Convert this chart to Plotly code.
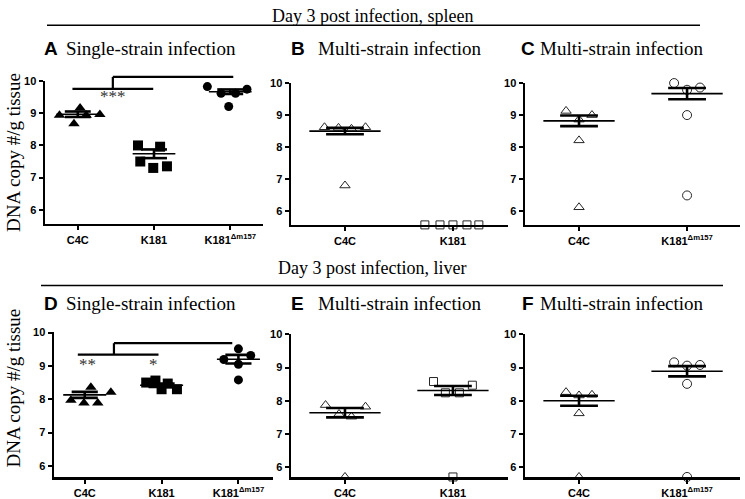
import plotly.graph_objects as go

W, H = 745, 499

# ---------------- data (log10 DNA copy #/g tissue) ----------------
cats_single = ["C4C", "K181", "K181<sup>Δm157</sup>"]
cats_multi_b = ["C4C", "K181"]
cats_multi_c = ["C4C", "K181<sup>Δm157</sup>"]

# A: spleen, single-strain
a_c4c = [8.94, 9.16, 8.67, 8.94, 8.96]
a_k181 = [8.00, 7.96, 7.50, 7.30, 7.35]
a_dm157 = [9.83, 9.62, 9.62, 9.21, 9.75]
a_mean = [8.97, 7.74, 9.67]
a_sem = [0.085, 0.135, 0.07]

# B: spleen, multi-strain C4C + K181 (K181 undetected)
b_c4c = [8.62, 8.60, 8.57, 8.62, 6.80]
b_k181 = [5.57, 5.57, 5.57, 5.57, 5.57]
b_mean = [8.50, None]
b_sem = [0.10, None]

# C: spleen, multi-strain C4C + K181dm157
c_c4c = [9.13, 8.86, 9.00, 8.21, 6.12]
c_dm157 = [10.00, 9.79, 9.86, 9.00, 6.49]
c_mean = [8.82, 9.67]
c_sem = [0.165, 0.175]

# D: liver, single-strain
d_c4c = [7.97, 7.89, 8.36, 7.89, 8.21]
d_k181 = [8.50, 8.56, 8.30, 8.47, 8.30]
d_dm157 = [9.51, 9.19, 9.05, 9.31, 8.58]
d_mean = [8.13, 8.42, 9.20]
d_sem = [0.09, 0.05, 0.13]

# E: liver, multi-strain C4C + K181
e_c4c = [7.87, 7.60, 7.52, 7.82, 5.70]
e_k181 = [8.58, 8.24, 8.24, 8.47, 5.70]
e_mean = [7.64, 8.31]
e_sem = [0.14, 0.135]

# F: liver, multi-strain C4C + K181dm157
f_c4c = [8.26, 8.16, 8.18, 7.62, 5.70]
f_dm157 = [9.16, 9.06, 9.08, 8.51, 5.70]
f_mean = [8.00, 8.89]
f_sem = [0.15, 0.155]

y_ticks = [6, 7, 8, 9, 10]

# ---------------- styling / horizontal spread of points ----------------
spread_a = [[-0.24, 0.03, -0.05, 0.11, 0.29],
            [-0.21, 0.08, -0.18, -0.01, 0.17],
            [-0.30, -0.12, 0.07, -0.02, 0.22]]
spread_b = [[-0.19, -0.06, 0.06, 0.19, 0.0],
            [-0.26, -0.12, 0.0, 0.13, 0.24]]
spread_c = [[-0.12, 0.0, 0.12, 0.0, 0.0],
            [-0.12, 0.0, 0.12, 0.0, 0.0]]
spread_d = [[-0.18, -0.01, 0.08, 0.17, 0.34],
            [-0.20, -0.08, 0.0, 0.08, 0.20],
            [0.0, -0.19, 0.0, 0.16, 0.0]]
spread_e = [[-0.18, -0.055, 0.06, 0.19, 0.0],
            [-0.18, -0.07, 0.06, 0.18, 0.0]]
spread_f = [[-0.12, 0.0, 0.12, 0.0, 0.0],
            [-0.12, 0.0, 0.12, 0.0, 0.0]]

SANS = "Liberation Sans"
SERIF = "Liberation Serif"
INK = "#000000"
OPEN_INK = "#262626"

tri_f = dict(symbol="triangle-up", size=10, color=INK)
sq_f = dict(symbol="square", size=10, color=INK)
cir_f = dict(symbol="circle", size=9, color=INK)
tri_o = dict(symbol="triangle-up-open", size=9, color=OPEN_INK, line=dict(width=1))
sq_o = dict(symbol="square-open", size=8, color=OPEN_INK, line=dict(width=1))
cir_o = dict(symbol="circle-open", size=9, color=OPEN_INK, line=dict(width=1))


def xdom(p0, p1):
    return [p0 / W, p1 / W]


def ydom(top, bottom):
    return [1 - bottom / H, 1 - top / H]


panels = [
    ("1", (45, 263), (-0.43, 2.43), (76, 221), (5.56, 10.005), cats_single,
     [(a_c4c, tri_f), (a_k181, sq_f), (a_dm157, cir_f)], a_mean, a_sem, spread_a, 0.28, 0.17),
    ("2", (291, 508), (-0.5, 1.51), (78, 222), (5.57, 10.005), cats_multi_b,
     [(b_c4c, tri_o), (b_k181, sq_o)], b_mean, b_sem, spread_b, 0.33, 0.175),
    ("3", (525, 740), (-0.5, 1.49), (78, 222), (5.57, 10.005), cats_multi_c,
     [(c_c4c, tri_o), (c_dm157, cir_o)], c_mean, c_sem, spread_c, 0.33, 0.175),
    ("4", (54, 273), (-0.40, 2.45), (331, 478), (5.66, 10.005), cats_single,
     [(d_c4c, tri_f), (d_k181, sq_f), (d_dm157, cir_f)], d_mean, d_sem, spread_d, 0.28, 0.17),
    ("5", (291, 508), (-0.5, 1.51), (333, 478), (5.69, 10.005), cats_multi_b,
     [(e_c4c, tri_o), (e_k181, sq_o)], e_mean, e_sem, spread_e, 0.33, 0.175),
    ("6", (525, 740), (-0.5, 1.49), (333, 478), (5.69, 10.005), cats_multi_c,
     [(f_c4c, tri_o), (f_dm157, cir_o)], f_mean, f_sem, spread_f, 0.33, 0.175),
]

fig = go.Figure()
layout = dict(
    width=W, height=H,
    margin=dict(l=0, r=0, t=0, b=0),
    paper_bgcolor="white", plot_bgcolor="white",
    showlegend=False,
)
shapes = []
annotations = []

for key, xpx, xr, ypx, yr, cats, groups, means, sems, spread, mw, sw in panels:
    xa = "x" if key == "1" else "x" + key
    ya = "y" if key == "1" else "y" + key
    xname = "xaxis" if key == "1" else "xaxis" + key
    yname = "yaxis" if key == "1" else "yaxis" + key
    layout[xname] = dict(
        domain=xdom(*xpx), range=list(xr), anchor=ya,
        showline=True, linewidth=2.5, linecolor=INK,
        ticks="outside", ticklen=4, tickwidth=2, tickcolor=INK,
        tickvals=list(range(len(cats))), ticktext=cats,
        tickfont=dict(family=SANS, size=11, color=INK, weight="bold"),
        showgrid=False, zeroline=False, fixedrange=True,
    )
    layout[yname] = dict(
        domain=ydom(*ypx), range=list(yr), anchor=xa,
        showline=True, linewidth=2.5, linecolor=INK,
        ticks="outside", ticklen=4, tickwidth=2, tickcolor=INK,
        tickvals=y_ticks, ticktext=[str(t) for t in y_ticks],
        tickfont=dict(family=SANS, size=11, color=INK, weight="bold"),
        showgrid=False, zeroline=False, fixedrange=True,
    )
    for gi, (vals, mk) in enumerate(groups):
        xs = [gi + s for s in spread[gi]]
        fig.add_trace(go.Scatter(
            x=xs, y=vals, mode="markers", marker=mk, xaxis=xa, yaxis=ya,
            cliponaxis=False, hoverinfo="skip"))
    mx, my, sx, sy = [], [], [], []
    for gi, (m, s) in enumerate(zip(means, sems)):
        if m is None:
            continue
        mx += [gi - mw, gi + mw, None]
        my += [m, m, None]
        sx += [gi - sw, gi + sw, None, gi - sw, gi + sw, None, gi, gi, None]
        sy += [m + s, m + s, None, m - s, m - s, None, m - s, m + s, None]
    fig.add_trace(go.Scatter(x=mx, y=my, mode="lines", line=dict(color=INK, width=1.6),
                             xaxis=xa, yaxis=ya, hoverinfo="skip"))
    fig.add_trace(go.Scatter(x=sx, y=sy, mode="lines", line=dict(color=INK, width=2.6),
                             xaxis=xa, yaxis=ya, hoverinfo="skip"))


def yfrac(v, yr):
    return (v - yr[0]) / (yr[1] - yr[0])


def bracket(xa, yr, x_lo0, x_lo1, y_lo, x_mid, x_hi1, y_hi):
    yd = ("y" if xa == "x" else "y" + xa[1:]) + " domain"
    ln = dict(color=INK, width=2.2)
    shapes.append(dict(type="line", xref=xa, yref=yd, x0=x_lo0, x1=x_lo1,
                       y0=yfrac(y_lo, yr), y1=yfrac(y_lo, yr), line=ln))
    shapes.append(dict(type="line", xref=xa, yref=yd, x0=x_mid, x1=x_mid,
                       y0=yfrac(y_lo, yr), y1=yfrac(y_hi, yr), line=ln))
    shapes.append(dict(type="line", xref=xa, yref=yd, x0=x_mid, x1=x_hi1,
                       y0=yfrac(y_hi, yr), y1=yfrac(y_hi, yr), line=ln))


bracket("x", (5.56, 10.005), -0.07, 0.99, 9.76, 0.46, 2.04, 10.13)
bracket("x4", (5.66, 10.005), -0.09, 0.96, 9.34, 0.38, 1.92, 9.68)

star_font = dict(family=SERIF, size=17, color="#333333")
annotations.append(dict(text="***", x=0.46, y=9.52, xref="x", yref="y",
                        showarrow=False, font=star_font))
annotations.append(dict(text="**", x=0.04, y=9.03, xref="x4", yref="y4",
                        showarrow=False, font=star_font))
annotations.append(dict(text="*", x=0.90, y=9.03, xref="x4", yref="y4",
                        showarrow=False, font=star_font))

annotations.append(dict(text="Day 3 post infection, spleen", x=372 / W, y=1 - 10 / H,
                        xref="paper", yref="paper", showarrow=False,
                        xanchor="center", yanchor="middle",
                        font=dict(family=SERIF, size=18, color=INK)))
annotations.append(dict(text="Day 3 post infection, liver", x=372 / W, y=1 - 266 / H,
                        xref="paper", yref="paper", showarrow=False,
                        xanchor="center", yanchor="middle",
                        font=dict(family=SERIF, size=18, color=INK)))
shapes.append(dict(type="line", xref="paper", yref="paper", x0=47 / W, x1=700 / W,
                   y0=1 - 19.5 / H, y1=1 - 19.5 / H, line=dict(color=INK, width=1.3)))
shapes.append(dict(type="line", xref="paper", yref="paper", x0=41 / W, x1=723 / W,
                   y0=1 - 283.5 / H, y1=1 - 283.5 / H, line=dict(color=INK, width=1.3)))

titles = [("A", 42, 64, 43, "Single-strain infection"),
          ("B", 289, 316, 43, "Multi-strain infection"),
          ("C", 519, 538, 43, "Multi-strain infection"),
          ("D", 42, 64, 302, "Single-strain infection"),
          ("E", 289, 316, 302, "Multi-strain infection"),
          ("F", 520, 538, 302, "Multi-strain infection")]
for letter, lx, tx, ty, txt in titles:
    annotations.append(dict(text=letter, x=lx / W, y=1 - ty / H, xref="paper", yref="paper",
                            xanchor="left", yanchor="middle", showarrow=False,
                            font=dict(family=SANS, size=19, color=INK, weight="bold")))
    annotations.append(dict(text=txt, x=tx / W, y=1 - ty / H, xref="paper", yref="paper",
                            xanchor="left", yanchor="middle", showarrow=False,
                            font=dict(family=SERIF, size=19, color=INK)))

for cy in (149, 388):
    annotations.append(dict(text="DNA copy #/g tissue", x=14 / W, y=1 - cy / H,
                            xref="paper", yref="paper", textangle=-90, showarrow=False,
                            xanchor="center", yanchor="middle",
                            font=dict(family=SERIF, size=19, color=INK)))

layout["shapes"] = shapes
layout["annotations"] = annotations
fig.update_layout(**layout)
fig.write_html(
    "out.html",
    config={"displayModeBar": False, "staticPlot": True},
    post_script="document.body.style.margin='0';document.body.style.padding='0';"
                "document.documentElement.style.overflow='hidden';",
)
